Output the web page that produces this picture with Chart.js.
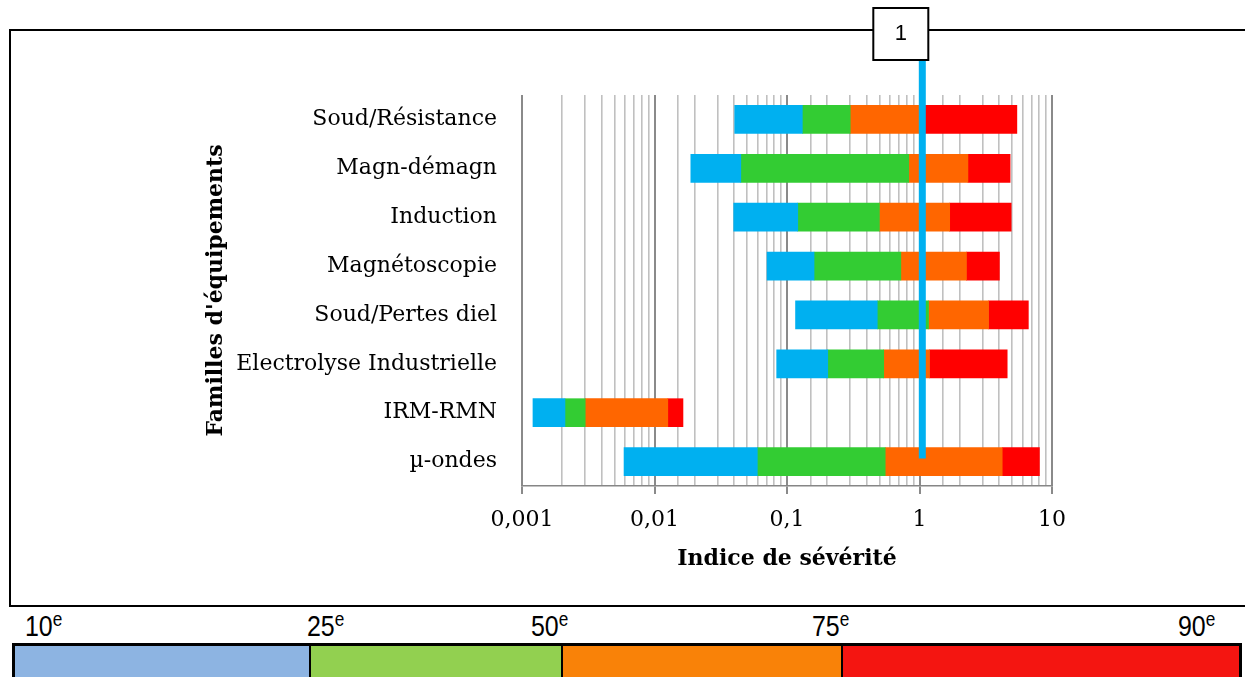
<!DOCTYPE html>
<html>
<head>
<meta charset="utf-8">
<script src="https://cdn.jsdelivr.net/npm/chart.js@4/dist/chart.umd.min.js"></script>
<style>
  html, body { margin: 0; padding: 0; background: #fff; }
  body { width: 1245px; height: 677px; position: relative; overflow: hidden; }
  #wrap { position: absolute; left: 0; top: 0; width: 1245px; height: 607px; }
  #legend { position: absolute; left: 0; top: 607px; width: 1245px; height: 70px;
            font-family: "Liberation Sans", Arial, sans-serif; }
  .lab { position: absolute; top: 5px; font-size: 29px; line-height: 29px; color: #000;
         transform: scaleX(0.86); transform-origin: left top; white-space: nowrap; }
  .lab sup { font-size: 20px; vertical-align: 10px; line-height: 0; }
  #bar { position: absolute; left: 12px; top: 36px; width: 1230px; height: 40px;
         display: flex; border: 3px solid #000; border-bottom: none; box-sizing: border-box; }
  #bar div { height: 100%; box-sizing: border-box; }
</style>
</head>
<body>
<div id="wrap"><canvas id="chart" width="1245" height="607"></canvas></div>
<div id="legend"><div id="bar"></div></div>
<script>
// familles d'equipements, du haut vers le bas
const categories = ['Soud/Résistance', 'Magn-démagn', 'Induction', 'Magnétoscopie',
                    'Soud/Pertes diel', 'Electrolyse Industrielle', 'IRM-RMN', 'µ-ondes'];

// centiles de l'indice de severite
const p10 = [0.0403, 0.0188, 0.0396, 0.0707, 0.116, 0.0836, 0.00121, 0.00589];
const p25 = [0.1305, 0.0448, 0.1205, 0.160, 0.48, 0.203, 0.00211, 0.0597];
const p50 = [0.30, 0.83, 0.498, 0.723, 1.17, 0.537, 0.0030, 0.551];
const p75 = [1.06, 2.32, 1.69, 2.26, 3.32, 1.19, 0.0126, 4.21];
const p90 = [5.43, 4.83, 4.92, 4.01, 6.63, 4.59, 0.0164, 8.04];

const segColors = ['#00B0F0', '#33CC33', '#FF6600', '#FF0000'];

// legende du bas
const legendLabels = ['10', '25', '50', '75', '90'];
const legendColors = ['#8DB4E2', '#92D050', '#F98208', '#F41511'];
const legendWidths = [294, 252, 280, 398];
const legendLabelLeft = [25, 307, 531, 812, 1178];

const threshold = 1;
const thresholdPos = 1.05;  // la ligne est un peu a droite de 1 sur l'original

const bounds = [p10, p25, p50, p75, p90];
const datasets = [];
for (let i = 0; i < 4; i++) {
	datasets.push({
		label: legendLabels[i] + '-' + legendLabels[i + 1],
		data: categories.map((c, k) => [bounds[i][k], bounds[i + 1][k]]),
		backgroundColor: segColors[i],
		borderWidth: 0,
		grouped: false,
		barThickness: 28
	});
}

const isDecade = (v) => Math.abs(Math.log10(v) - Math.round(Math.log10(v))) < 1e-6;
const serif = '"DejaVu Serif", serif';

const framePlugin = {
	id: 'frame',
	beforeDraw(chart) {
		const ctx = chart.ctx;
		ctx.save();
		ctx.fillStyle = '#fff';
		ctx.fillRect(0, 0, chart.width, chart.height);
		ctx.strokeStyle = '#000';
		ctx.lineWidth = 2;
		ctx.strokeRect(10, 30, 1245, 576);
		ctx.restore();
	},
	afterDatasetsDraw(chart) {
		const ctx = chart.ctx;
		const x = chart.scales.x.getPixelForValue(thresholdPos);
		const yEnd = chart.scales.y.getPixelForValue(categories.length - 1) - 3;
		ctx.save();
		ctx.strokeStyle = '#00B0F0';
		ctx.lineWidth = 7;
		ctx.beginPath();
		ctx.moveTo(x, 58);
		ctx.lineTo(x, yEnd);
		ctx.stroke();
		// boite "1"
		ctx.fillStyle = '#fff';
		ctx.fillRect(x - 49, 8, 55, 52);
		ctx.strokeStyle = '#000';
		ctx.lineWidth = 2;
		ctx.strokeRect(x - 49, 8, 55, 52);
		ctx.fillStyle = '#000';
		ctx.font = '22px "Liberation Sans", Arial, sans-serif';
		ctx.textAlign = 'center';
		ctx.textBaseline = 'middle';
		ctx.fillText(String(threshold), x - 21.5, 34);
		ctx.restore();
	}
};

new Chart(document.getElementById('chart'), {
	type: 'bar',
	data: { labels: categories, datasets: datasets },
	options: {
		indexAxis: 'y',
		responsive: false,
		animation: false,
		layout: { padding: { left: 196, right: 193, top: 95, bottom: 31 } },
		plugins: { legend: { display: false }, tooltip: { enabled: false } },
		scales: {
			x: {
				type: 'logarithmic',
				min: 0.001,
				max: 10,
				afterFit: (s) => { s.height = 90; },
				border: { display: true, color: '#868686', width: 1.5 },
				grid: {
					color: (c) => (c.tick && isDecade(c.tick.value)) ? '#8A8A8A' : '#C0C0C0',
					lineWidth: (c) => (c.tick && isDecade(c.tick.value)) ? 2 : 1.6,
					tickColor: (c) => (c.tick && isDecade(c.tick.value)) ? '#8A8A8A' : 'rgba(0,0,0,0)',
					tickLength: 8
				},
				ticks: {
					autoSkip: false,
					maxRotation: 0,
					padding: 13,
					color: '#000',
					font: { family: serif, size: 22 },
					callback: (v) => isDecade(v) ? String(+v.toPrecision(3)).replace('.', ',') : ''
				},
				title: {
					display: true,
					text: 'Indice de sévérité',
					color: '#000',
					font: { family: serif, size: 22, weight: 'bold' },
					padding: { top: 0, bottom: 4 }
				}
			},
			y: {
				afterFit: (s) => { s.width = 522 - 196; },
				border: { display: false },
				grid: { display: false, drawTicks: false },
				ticks: {
					padding: 25,
					color: '#000',
					font: { family: serif, size: 22 }
				},
				title: {
					display: true,
					text: "Familles d'équipements",
					color: '#000',
					font: { family: serif, size: 22, weight: 'bold' },
					padding: { top: 7, bottom: 0 }
				}
			}
		}
	},
	plugins: [framePlugin]
});

// legende des centiles
const legend = document.getElementById('legend');
legendLabels.forEach((t, i) => {
	const d = document.createElement('div');
	d.className = 'lab';
	d.style.left = legendLabelLeft[i] + 'px';
	d.innerHTML = t + '<sup>e</sup>';
	legend.appendChild(d);
});
const bar = document.getElementById('bar');
legendColors.forEach((c, i) => {
	const d = document.createElement('div');
	d.style.width = legendWidths[i] + 'px';
	d.style.background = c;
	if (i > 0) d.style.borderLeft = '2px solid #000';
	bar.appendChild(d);
});
</script>
</body>
</html>
